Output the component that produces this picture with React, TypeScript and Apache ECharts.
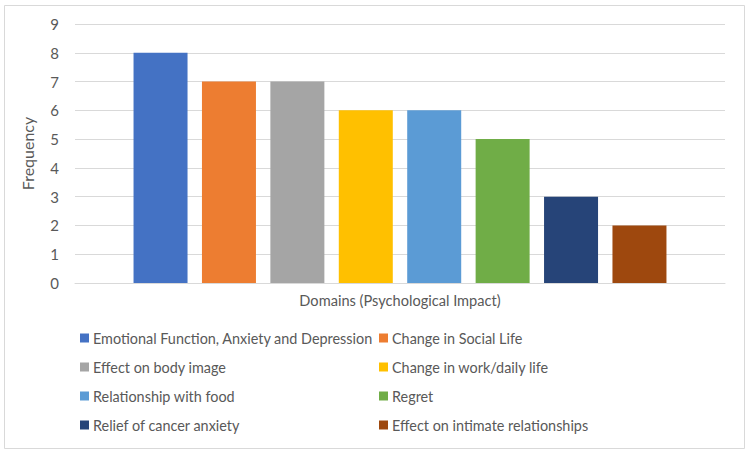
import React, { useEffect, useRef } from "react";
import * as echarts from "echarts";

const categories = ["Domains (Psychological Impact)"];
const seriesNames = [
  "Emotional Function, Anxiety and Depression",
  "Change in Social Life",
  "Effect on body image",
  "Change in work/daily life",
  "Relationship with food",
  "Regret",
  "Relief of cancer anxiety",
  "Effect on intimate relationships",
];
const seriesValues = [8, 7, 7, 6, 6, 5, 3, 2];
const colors = ["#4472C4", "#ED7D31", "#A5A5A5", "#FFC000", "#5B9BD5", "#70AD47", "#264478", "#9E480E"];
const yTicks = [0, 1, 2, 3, 4, 5, 6, 7, 8, 9];

const FONT = "Lato";
const TXT = "#595959";

export default function App() {
  const ref = useRef<HTMLDivElement>(null);
  useEffect(() => {
    if (!ref.current) return;
    const chart = echarts.init(ref.current, undefined, { renderer: "svg" });
    const leftNames = seriesNames.filter((_, i) => i % 2 === 0);
    const rightNames = seriesNames.filter((_, i) => i % 2 === 1);
    const legendCommon = {
      orient: "vertical" as const,
      top: 331,
      itemWidth: 9,
      itemHeight: 9,
      itemGap: 15,
      icon: "rect",
      textStyle: { fontFamily: FONT, fontSize: 14.4, color: TXT, padding: [0, 0, 0, -1] },
      padding: 0,
      selectedMode: false,
    };
    chart.setOption({
      animation: false,
      backgroundColor: "#fff",
      textStyle: { fontFamily: FONT },
      grid: { left: 75, right: 25, top: 24, bottom: 172 },
      legend: [
        { ...legendCommon, left: 80, data: leftNames },
        { ...legendCommon, left: 379, data: rightNames },
      ],
      xAxis: {
        type: "category",
        data: categories,
        axisLabel: { show: false },
        axisTick: { show: false },
        axisLine: { lineStyle: { color: "#D9D9D9" } },
        name: categories[0],
        nameLocation: "middle",
        nameGap: 10,
        nameTextStyle: { fontFamily: FONT, fontSize: 14.6, color: TXT },
      },
      yAxis: {
        type: "value",
        min: yTicks[0],
        max: yTicks[yTicks.length - 1],
        interval: 1,
        axisLabel: { fontFamily: FONT, fontSize: 15, color: TXT, margin: 16 },
        splitLine: { lineStyle: { color: "#D9D9D9" } },
        axisLine: { show: false },
        axisTick: { show: false },
        name: "Frequency",
        nameLocation: "middle",
        nameGap: 40,
        nameTextStyle: { fontFamily: FONT, fontSize: 16, color: TXT },
      },
      graphic: [
        {
          type: "rect",
          shape: { x: 4.5, y: 5.5, width: 740, height: 443 },
          style: { fill: "none", stroke: "#D9D9D9", lineWidth: 1 },
          silent: true,
          z: -1,
        },
      ],
      series: seriesNames.map((name, i) => ({
        name,
        type: "bar",
        data: [seriesValues[i]],
        barWidth: 54,
        barGap: "26.7%",
        itemStyle: { color: colors[i] },
      })),
    });
    return () => chart.dispose();
  }, []);
  return <div ref={ref} style={{ position: "fixed", left: 0, top: 0, width: 750, height: 455 }} />;
}
